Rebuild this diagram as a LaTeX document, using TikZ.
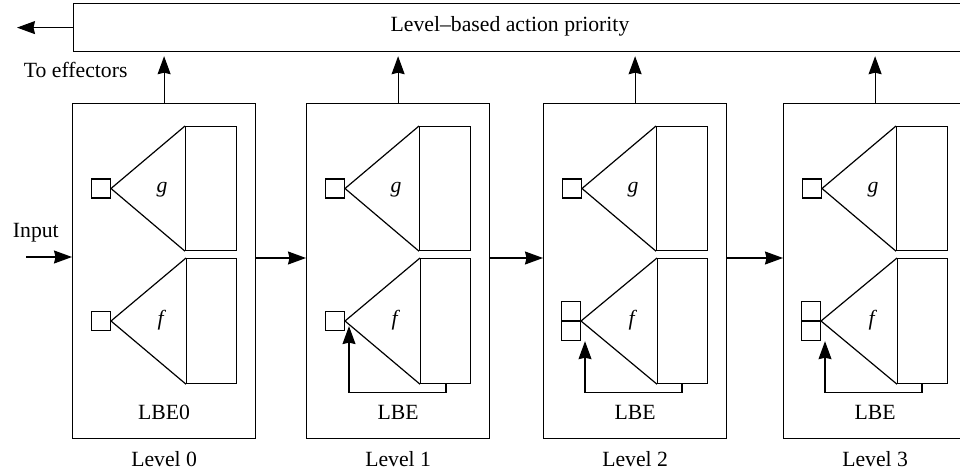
\documentclass[tikz,border=0pt]{standalone}
\usepackage{fontspec}
\setmainfont{Liberation Serif}
\usetikzlibrary{arrows.meta,calc,positioning}

\tikzset{
  arr/.style={-{Stealth[length=18pt,width=13pt,inset=1.5pt]}},
  lvlbox/.style={draw, anchor=north west, minimum width=183pt, minimum height=335pt, inner sep=0pt},
  memrect/.style={draw, anchor=north west, minimum width=51pt, minimum height=124pt, inner sep=0pt},
  cell/.style={draw, minimum size=19pt, inner sep=0pt},
}

\begin{document}
\begin{tikzpicture}[x=1pt, y=-1pt, line width=1.2pt, font=\fontsize{21.7}{26}\selectfont]
    \useasboundingbox (0,0) rectangle (960,473);
    \clip (0,0) rectangle (960,473);

    \node[draw, anchor=north west, minimum width=920pt, minimum height=48pt, inner sep=0pt] (bar) at (73,3) {};
    \node[anchor=base] (prio) at (510,32) {Level–based action priority};
    \coordinate (eff) at (17,27);
    \draw[arr] (bar.west) -- (bar.west -| eff);
    \node[anchor=base west] (efflbl) at (20,78) {To effectors};

    \foreach \i/\x/\name in {0/72/LBE0,1/306/LBE,2/543/LBE,3/783/LBE} {
        \node[lvlbox] (lvl\i) at (\x,103) {};
        \node[memrect] (grect\i) at (\x+113,126) {};
        \node[cell, anchor=east] (gin\i) at (\x+39,188.5) {};
        \draw (grect\i.north west) -- (gin\i.east) -- (grect\i.south west);
        \node[anchor=base] at (\x+90,192) {\textit{g}};
        \node[memrect, minimum width=50pt, minimum height=125pt] (frect\i) at (\x+114,258) {};
        \node[anchor=base] at (\x+90,325) {\textit{f}};
        \node[anchor=base] at ($(lvl\i.south)+(0,-20)$) {\name};
        \node[anchor=base] at ($(lvl\i.south)+(0,27)$) {Level \i};
        \draw[arr, shorten >=4pt] (lvl\i.north) -- (lvl\i.north |- bar.south);
    }

    \foreach \i/\x in {0/72,1/306} {
        \node[cell, anchor=east] (fin\i) at (\x+39,321) {};
        \draw (frect\i.north west) -- (fin\i.east) -- (frect\i.south west);
    }
    \foreach \i/\x in {2/543,3/783} {
        \node[cell, anchor=south east] (fin\i) at (\x+38,321) {};
        \node[cell, anchor=north east] (fprev\i) at (\x+38,321) {};
        \draw (frect\i.north west) -- (fin\i.south east) -- (frect\i.south west);
    }

    \draw[arr] ($(frect1.south west)+(26,0)$) -- ++(0,8) -| ($(fin1.south east)+(4,-5)$);
    \draw[arr] ($(frect2.south west)+(25,0)$) -- ++(0,8) -| ($(fprev2.south east)+(4,0)$);
    \draw[arr] ($(frect3.south west)+(25,0)$) -- ++(0,8) -| ($(fprev3.south east)+(4,0)$);

    \coordinate (in) at (26,257);
    \node[anchor=base west] (inlbl) at (9,237) {Input};
    \draw[arr] (in) -- (in -| lvl0.west);

    \coordinate (row) at (0,258);
    \draw[arr] (lvl0.east |- row) -- (lvl1.west |- row);
    \draw[arr] (lvl1.east |- row) -- (lvl2.west |- row);
    \draw[arr] (lvl2.east |- row) -- (lvl3.west |- row);
\end{tikzpicture}
\end{document}
